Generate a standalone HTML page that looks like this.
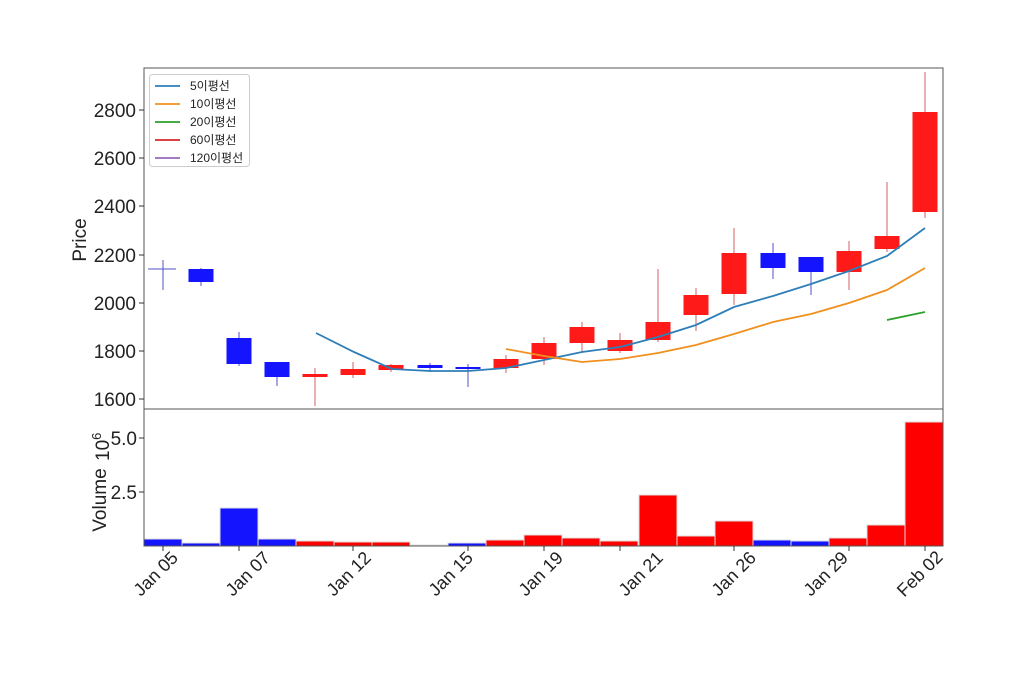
<!DOCTYPE html>
<html><head><meta charset="utf-8"><style>body{margin:0;background:#fff}svg text{font-family:"Liberation Sans","Noto Sans CJK KR",sans-serif;fill:#222}</style></head>
<body>
<svg width="1024" height="675" xmlns="http://www.w3.org/2000/svg">
<rect width="1024" height="675" fill="#fff"/>
<g stroke-width="1">
<g fill="#1414ff" stroke="#5050c8">
<line x1="163" y1="260" x2="163" y2="290"/><line x1="148" y1="269" x2="176" y2="269" stroke="#5050c8"/>
<line x1="201" y1="268" x2="201" y2="286"/><rect x="188.5" y="269" width="25" height="13" stroke="none"/>
<line x1="239" y1="332" x2="239" y2="366"/><rect x="226.5" y="338" width="25" height="26" stroke="none"/>
<line x1="277" y1="362" x2="277" y2="386"/><rect x="264.5" y="362" width="25" height="15" stroke="none"/>
<line x1="430" y1="363" x2="430" y2="372"/><rect x="417.5" y="365" width="25" height="3" stroke="none"/>
<line x1="468" y1="364" x2="468" y2="387"/><rect x="455.5" y="367" width="25" height="2" stroke="none"/>
<line x1="773" y1="243" x2="773" y2="279"/><rect x="760.5" y="253" width="25" height="15" stroke="none"/>
<line x1="811" y1="257" x2="811" y2="295"/><rect x="798.5" y="257" width="25" height="15" stroke="none"/>
</g>
<g fill="#ff1a1a" stroke="#d06060">
<line x1="315" y1="368" x2="315" y2="406"/><rect x="302.5" y="374" width="25" height="3" stroke="none"/>
<line x1="353" y1="362" x2="353" y2="378"/><rect x="340.5" y="369" width="25" height="6" stroke="none"/>
<line x1="391" y1="364" x2="391" y2="372"/><rect x="378.5" y="365" width="25" height="5" stroke="none"/>
<line x1="506" y1="355" x2="506" y2="373"/><rect x="493.5" y="359" width="25" height="9" stroke="none"/>
<line x1="544" y1="337" x2="544" y2="365"/><rect x="531.5" y="343" width="25" height="16" stroke="none"/>
<line x1="582" y1="322" x2="582" y2="353"/><rect x="569.5" y="327" width="25" height="16" stroke="none"/>
<line x1="620" y1="333" x2="620" y2="353"/><rect x="607.5" y="340" width="25" height="11" stroke="none"/>
<line x1="658" y1="269" x2="658" y2="342"/><rect x="645.5" y="322" width="25" height="18" stroke="none"/>
<line x1="696" y1="288" x2="696" y2="331"/><rect x="683.5" y="295" width="25" height="20" stroke="none"/>
<line x1="734" y1="228" x2="734" y2="305"/><rect x="721.5" y="253" width="25" height="41" stroke="none"/>
<line x1="849" y1="241" x2="849" y2="290"/><rect x="836.5" y="251" width="25" height="21" stroke="none"/>
<line x1="887" y1="182" x2="887" y2="252"/><rect x="874.5" y="236" width="25" height="13" stroke="none"/>
<line x1="925" y1="72" x2="925" y2="218"/><rect x="912.5" y="112" width="25" height="100" stroke="none"/>
</g>
</g>
<polyline fill="none" stroke="#2e7fb8" stroke-width="1.8" points="316,333 354,352 392,369 430,371 468,371 506,368 544,360 582,352 620,347 658,337 696,325 734,307 773,296 811,284 849,271 887,256 925,228"/>
<polyline fill="none" stroke="#f0901e" stroke-width="1.8" points="506,349 544,356 582,362 620,359 658,353 696,345 734,334 773,322 811,314 849,303 887,290 925,268"/>
<polyline fill="none" stroke="#2ca02c" stroke-width="1.8" points="887,320 925,312"/>
<g stroke="#ddd" stroke-width="1">
<rect x="144" y="539" width="38" height="7" fill="#1414ff"/>
<rect x="182" y="543" width="38" height="3" fill="#1414ff"/>
<rect x="220" y="508" width="38" height="38" fill="#1414ff"/>
<rect x="258" y="539" width="38" height="7" fill="#1414ff"/>
<rect x="296" y="541" width="38" height="5" fill="#ff0000"/>
<rect x="334" y="542" width="38" height="4" fill="#ff0000"/>
<rect x="372" y="542" width="38" height="4" fill="#ff0000"/>
<rect x="410" y="545" width="38" height="1" fill="#1414ff"/>
<rect x="448" y="543" width="38" height="3" fill="#1414ff"/>
<rect x="486" y="540" width="38" height="6" fill="#ff0000"/>
<rect x="524" y="535" width="38" height="11" fill="#ff0000"/>
<rect x="562" y="538" width="38" height="8" fill="#ff0000"/>
<rect x="600" y="541" width="38" height="5" fill="#ff0000"/>
<rect x="639" y="495" width="38" height="51" fill="#ff0000"/>
<rect x="677" y="536" width="38" height="10" fill="#ff0000"/>
<rect x="715" y="521" width="38" height="25" fill="#ff0000"/>
<rect x="753" y="540" width="38" height="6" fill="#1414ff"/>
<rect x="791" y="541" width="38" height="5" fill="#1414ff"/>
<rect x="829" y="538" width="38" height="8" fill="#ff0000"/>
<rect x="867" y="525" width="38" height="21" fill="#ff0000"/>
<rect x="905" y="422" width="38" height="124" fill="#ff0000"/>
</g>
<rect x="144" y="68" width="799" height="341" fill="none" stroke="#555" stroke-width="1"/>
<rect x="144" y="409" width="799" height="137" fill="none" stroke="#555" stroke-width="1"/>
<g stroke="#333"><line x1="139" y1="110" x2="144" y2="110"/><line x1="139" y1="158" x2="144" y2="158"/><line x1="139" y1="206" x2="144" y2="206"/><line x1="139" y1="255" x2="144" y2="255"/><line x1="139" y1="303" x2="144" y2="303"/><line x1="139" y1="351" x2="144" y2="351"/><line x1="139" y1="399" x2="144" y2="399"/>
<line x1="139" y1="438" x2="144" y2="438"/><line x1="139" y1="492" x2="144" y2="492"/></g>
<g font-size="19" text-anchor="end">
<text x="136" y="117">2800</text><text x="136" y="165">2600</text><text x="136" y="213">2400</text><text x="136" y="262">2200</text><text x="136" y="310">2000</text><text x="136" y="358">1800</text><text x="136" y="406">1600</text>
<text x="137" y="445">5.0</text><text x="137" y="499">2.5</text>
</g>
<text x="86" y="240" font-size="19" text-anchor="middle" transform="rotate(-90 86 240)">Price</text>
<text x="106" y="500" font-size="19" text-anchor="middle" transform="rotate(-90 106 500)">Volume</text>
<text x="109" y="461" font-size="19" transform="rotate(-90 109 461)">10<tspan font-size="13" dy="-8">6</tspan></text>
<g stroke="#333"><line x1="163" y1="546" x2="163" y2="551"/><line x1="239" y1="546" x2="239" y2="551"/><line x1="353" y1="546" x2="353" y2="551"/><line x1="468" y1="546" x2="468" y2="551"/><line x1="544" y1="546" x2="544" y2="551"/><line x1="620" y1="546" x2="620" y2="551"/><line x1="734" y1="546" x2="734" y2="551"/><line x1="849" y1="546" x2="849" y2="551"/><line x1="925" y1="546" x2="925" y2="551"/></g>
<g font-size="18" text-anchor="middle">
<text transform="translate(160,578) rotate(-45)">Jan 05</text>
<text transform="translate(252,578) rotate(-45)">Jan 07</text>
<text transform="translate(353,578) rotate(-45)">Jan 12</text>
<text transform="translate(455,578) rotate(-45)">Jan 15</text>
<text transform="translate(545,578) rotate(-45)">Jan 19</text>
<text transform="translate(645,578) rotate(-45)">Jan 21</text>
<text transform="translate(738,578) rotate(-45)">Jan 26</text>
<text transform="translate(830,578) rotate(-45)">Jan 29</text>
<text transform="translate(924,578) rotate(-45)">Feb 02</text>
</g>
<rect x="149.5" y="74.5" width="100" height="92" rx="3" fill="#fff" stroke="#ccc"/>
<g stroke-width="1.8">
<line x1="155" y1="86" x2="180" y2="86" stroke="#2e7fb8"/>
<line x1="155" y1="104" x2="180" y2="104" stroke="#f0901e"/>
<line x1="155" y1="122" x2="180" y2="122" stroke="#2ca02c"/>
<line x1="155" y1="140" x2="180" y2="140" stroke="#d62728"/>
<line x1="155" y1="158" x2="180" y2="158" stroke="#9467bd"/>
</g>
<g font-size="12">
<text x="190" y="90">5이평선</text><text x="190" y="108">10이평선</text><text x="190" y="126">20이평선</text><text x="190" y="144">60이평선</text><text x="190" y="162">120이평선</text>
</g>
</svg>
</body></html>
